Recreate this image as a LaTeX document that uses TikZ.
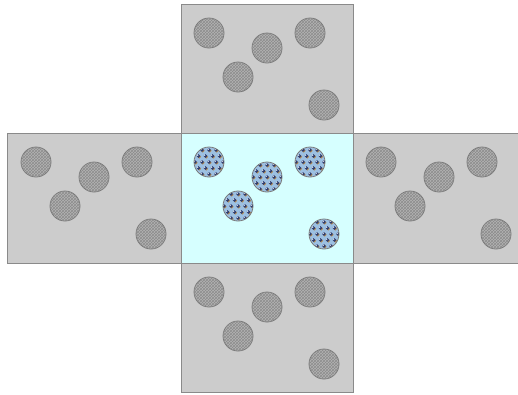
\documentclass[tikz,border=0pt]{standalone}
\usetikzlibrary{patterns}
\definecolor{panelgray}{HTML}{CCCCCC}
\definecolor{paneledge}{HTML}{8A8A8A}
\definecolor{centerfill}{HTML}{D6FFFF}
\definecolor{ballgray}{HTML}{B4B4B4}
\definecolor{balledge}{HTML}{7A7A7A}
\definecolor{ballhatch}{HTML}{8C8C8C}
\definecolor{ballblue}{HTML}{9CC0E2}
\definecolor{dotblue}{HTML}{2E3C6E}
\definecolor{dotorange}{HTML}{B08850}
\tikzset{
  panel/.style={draw=paneledge, line width=0.8pt, fill=panelgray},
  centerpanel/.style={draw=paneledge, line width=0.8pt, fill=centerfill},
  grayball/.style={fill=ballgray, postaction={pattern=crosshatch, pattern color=ballhatch}, draw=balledge, line width=0.8pt},
  blueball/.style={fill=ballblue, draw=balledge, line width=0.8pt},
}
\newcommand{\grayballs}[2]{%
  \foreach \dx/\dy in {28/29, 86/44, 129/29, 57/73, 143/101}{
    \draw[grayball] (#1+\dx,#2+\dy) circle (15);
  }}
\newcommand{\blueballat}[2]{%
  \begin{scope}
    \clip (#1,#2) circle (15);
    \fill[ballblue] (#1,#2) circle (15);
    \foreach \i in {-3,...,3}{
      \foreach \j in {-3,...,3}{
        \pgfmathsetmacro{\px}{#1+\i*7+mod(\j+10,2)*3.5}
        \pgfmathsetmacro{\py}{#2+\j*6}
        \fill[dotorange] (\px+0.8,\py+0.8) circle (1.8);
        \fill[dotblue] (\px,\py) circle (1.8);
        \fill[white] (\px-0.8,\py-0.8) circle (0.6);
      }
    }
  \end{scope}
  \draw[balledge, line width=0.8pt] (#1,#2) circle (15);}
\newcommand{\blueballs}[2]{%
  \foreach \dx/\dy in {28/29, 86/44, 129/29, 57/73, 143/101}{
    \blueballat{#1+\dx}{#2+\dy}
  }}
\begin{document}
\begin{tikzpicture}[x=1pt, y=-1pt]
  \useasboundingbox (0,0) rectangle (518,394);
  \begin{scope}
    \clip (0,0) rectangle (518,394);
    % panels
    \draw[panel] (181,4) rectangle (353,133);
    \draw[panel] (7,133) rectangle (181,263);
    \draw[panel] (353,133) rectangle (526,263);
    \draw[panel] (181,263) rectangle (353,392);
    \draw[centerpanel] (181,133) rectangle (353,263);
    % balls
    \grayballs{181}{4}
    \grayballs{8}{133}
    \grayballs{353}{133}
    \grayballs{181}{263}
    \blueballs{181}{133}
  \end{scope}
\end{tikzpicture}
\end{document}
